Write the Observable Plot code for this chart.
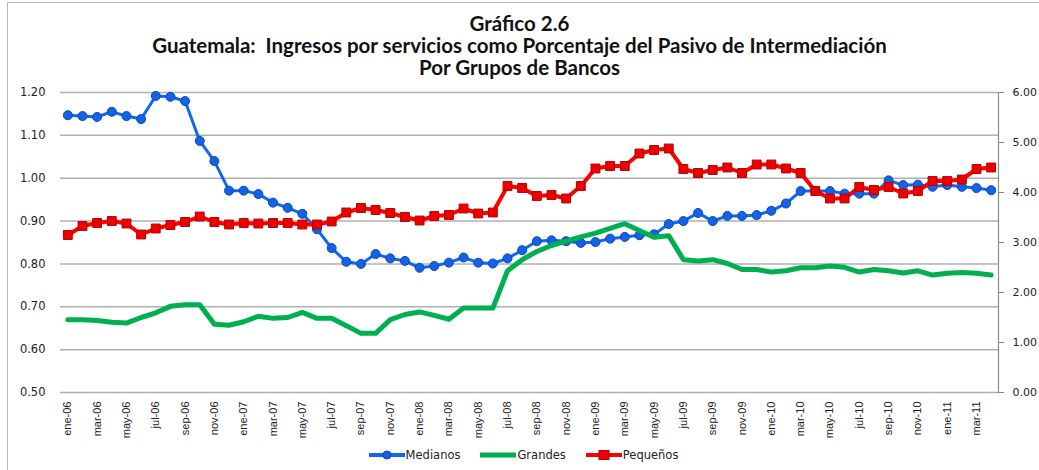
<!DOCTYPE html>
<html>
<head>
<meta charset="utf-8">
<script src="https://cdn.jsdelivr.net/npm/d3@7"></script>
<script src="https://cdn.jsdelivr.net/npm/@observablehq/plot@0.6"></script>
<style>
  html, body { margin: 0; padding: 0; background: #fff; overflow: hidden; }
  #wrap { position: relative; width: 1039px; height: 470px; overflow: hidden; }
  #frame { position: absolute; left: 7px; top: 2px; width: 1100px; height: 500px;
           border-left: 1.5px solid #b8b8b8; border-top: 1.5px solid #b8b8b8; pointer-events: none; }
  #title { height: 80px; box-sizing: border-box; padding-top: 12px; text-align: center;
           font-family: Lato, "Open Sans", sans-serif; font-weight: bold; font-size: 20.5px;
           line-height: 22px; color: #111; }
  #chart svg { display: block; overflow: visible; }
  #legend { height: 30px; display: flex; justify-content: center; align-items: center;
            font-family: "DejaVu Sans", sans-serif; font-size: 11.5px; color: #222; padding-left: 8px; }
  .item { display: flex; align-items: center; margin: 0 10px; }
  .item svg { margin-right: 1px; }
</style>
</head>
<body>
<div id="wrap">
  <div id="title">
    <div>Gráfico 2.6</div>
    <div>Guatemala:&nbsp; Ingresos por servicios como Porcentaje del Pasivo de Intermediación</div>
    <div>Por Grupos de Bancos</div>
  </div>
  <div id="chart"></div>
  <div id="legend"></div>
  <div id="frame"></div>
</div>
<script>
// ---- data ----
const months = [
  "ene-06","feb-06","mar-06","abr-06","may-06","jun-06","jul-06","ago-06","sep-06","oct-06","nov-06","dic-06",
  "ene-07","feb-07","mar-07","abr-07","may-07","jun-07","jul-07","ago-07","sep-07","oct-07","nov-07","dic-07",
  "ene-08","feb-08","mar-08","abr-08","may-08","jun-08","jul-08","ago-08","sep-08","oct-08","nov-08","dic-08",
  "ene-09","feb-09","mar-09","abr-09","may-09","jun-09","jul-09","ago-09","sep-09","oct-09","nov-09","dic-09",
  "ene-10","feb-10","mar-10","abr-10","may-10","jun-10","jul-10","ago-10","sep-10","oct-10","nov-10","dic-10",
  "ene-11","feb-11","mar-11","abr-11"
];
const medianos = [
  1.147, 1.145, 1.143, 1.155, 1.145, 1.138, 1.192, 1.190, 1.180, 1.087, 1.040, 0.971,
  0.971, 0.963, 0.943, 0.931, 0.917, 0.881, 0.837, 0.805, 0.800, 0.823, 0.813, 0.807,
  0.791, 0.795, 0.803, 0.815, 0.803, 0.801, 0.813, 0.832, 0.853, 0.855, 0.853, 0.849,
  0.851, 0.859, 0.863, 0.867, 0.869, 0.893, 0.900, 0.919, 0.900, 0.912, 0.912, 0.914,
  0.924, 0.941, 0.970, 0.970, 0.970, 0.964, 0.964, 0.964, 0.995, 0.984, 0.985, 0.980,
  0.984, 0.980, 0.977, 0.972
];
const grandes = [
  0.670, 0.670, 0.668, 0.664, 0.662, 0.675, 0.686, 0.701, 0.705, 0.705, 0.659, 0.657,
  0.665, 0.678, 0.673, 0.675, 0.687, 0.673, 0.673, 0.656, 0.638, 0.638, 0.670, 0.682,
  0.688, 0.680, 0.671, 0.697, 0.697, 0.697, 0.784, 0.810, 0.829, 0.843, 0.853, 0.863,
  0.872, 0.883, 0.894, 0.878, 0.862, 0.866, 0.810, 0.807, 0.810, 0.801, 0.787, 0.787,
  0.781, 0.784, 0.791, 0.791, 0.795, 0.792, 0.781, 0.787, 0.784, 0.779, 0.784, 0.774,
  0.778, 0.780, 0.778, 0.774
];
// Pequeños: right axis (0–6)
const pequenos = [
  3.15, 3.33, 3.39, 3.43, 3.38, 3.16, 3.28, 3.35, 3.41, 3.52, 3.41, 3.36,
  3.39, 3.38, 3.39, 3.39, 3.36, 3.36, 3.42, 3.60, 3.69, 3.65, 3.59, 3.51,
  3.44, 3.53, 3.55, 3.68, 3.58, 3.60, 4.13, 4.09, 3.93, 3.95, 3.88, 4.13,
  4.48, 4.53, 4.53, 4.78, 4.85, 4.88, 4.47, 4.39, 4.45, 4.50, 4.39, 4.56,
  4.56, 4.48, 4.39, 4.03, 3.88, 3.88, 4.11, 4.05, 4.11, 3.98, 4.03, 4.23,
  4.23, 4.26, 4.47, 4.50
];
const leftTicks = [0.5, 0.6, 0.7, 0.8, 0.9, 1.0, 1.1, 1.2];
const rightTicks = [0, 1, 2, 3, 4, 5, 6];
const xTicks = months.filter((d, i) => i % 2 === 0);
const seriesNames = ["Medianos", "Grandes", "Pequeños"];
const colors = { Medianos: "#0f68f2", Grandes: "#00b050", Pequeños: "#ff0000" };

// right axis -> left scale mapping
const L0 = 0.5, L1 = 1.2, R0 = 0, R1 = 6;
const toLeft = v => L0 + (v - R0) * (L1 - L0) / (R1 - R0);
const toRight = v => R0 + (v - L0) * (R1 - R0) / (L1 - L0);

const rows = months.map((m, i) => ({ m, med: medianos[i], gra: grandes[i], peq: toLeft(pequenos[i]) }));

const chart = Plot.plot({
  width: 1039,
  height: 360,
  marginTop: 12,
  marginBottom: 48,
  marginLeft: 60,
  marginRight: 41,
  style: { fontFamily: "DejaVu Sans, sans-serif", fontSize: "11.5px", color: "#222", background: "transparent" },
  x: { type: "point", domain: months, padding: 0.5, label: null },
  y: { domain: [L0, L1], label: null },
  marks: [
    Plot.ruleY(leftTicks, { stroke: "#b0b0b0", strokeWidth: 1.5 }),
    Plot.axisY(leftTicks, { anchor: "left", label: null, tickSize: 0, tickPadding: 15, tickFormat: d => d.toFixed(2), fill: "#222" }),
    Plot.axisY(rightTicks.map(toLeft), { anchor: "right", label: null, tickSize: 5, tickPadding: 9, stroke: "#888",
      tickFormat: d => toRight(d).toFixed(2), fill: "#222", fontSize: 11 }),
    Plot.frame({ anchor: "right", stroke: "#8c8c8c", strokeWidth: 1.2 }),
    Plot.axisX({ ticks: xTicks, label: null, tickRotate: -90, tickSize: 0, tickPadding: 9,
      fontFamily: "Liberation Sans Narrow, Arial Narrow, Liberation Sans, sans-serif", fontSize: 11, fill: "#222" }),
    Plot.lineY(rows, { x: "m", y: "med", stroke: colors.Medianos, strokeWidth: 3 }),
    Plot.dot(rows, { x: "m", y: "med", r: 4.5, fill: "#1462e6", stroke: "#0a48b8", strokeWidth: 1 }),
    Plot.lineY(rows, { x: "m", y: "gra", stroke: colors.Grandes, strokeWidth: 5 }),
    Plot.lineY(rows, { x: "m", y: "peq", stroke: colors.Pequeños, strokeWidth: 4 }),
    Plot.dot(rows, { x: "m", y: "peq", symbol: "square", r: 5, fill: "#ee0000", stroke: "#b00000", strokeWidth: 1 })
  ]
});
document.getElementById("chart").appendChild(chart);

// legend
const legend = document.getElementById("legend");
const marker = { Medianos: "circle", Grandes: null, Pequeños: "square" };
seriesNames.forEach(name => {
  const it = document.createElement("div");
  it.className = "item";
  const c = colors[name];
  let m = "";
  if (marker[name] === "circle") m = `<circle cx="18" cy="7" r="4" fill="#1462e6" stroke="#0a48b8"/>`;
  if (marker[name] === "square") m = `<rect x="13" y="2.5" width="10" height="9" fill="#ee0000" stroke="#b00000"/>`;
  it.innerHTML = `<svg width="36" height="14"><line x1="0" x2="36" y1="7" y2="7" stroke="${c}" stroke-width="${name === "Grandes" ? 5 : 4}" stroke-linecap="round"/>${m}</svg><span>${name}</span>`;
  legend.appendChild(it);
});
</script>
</body>
</html>
